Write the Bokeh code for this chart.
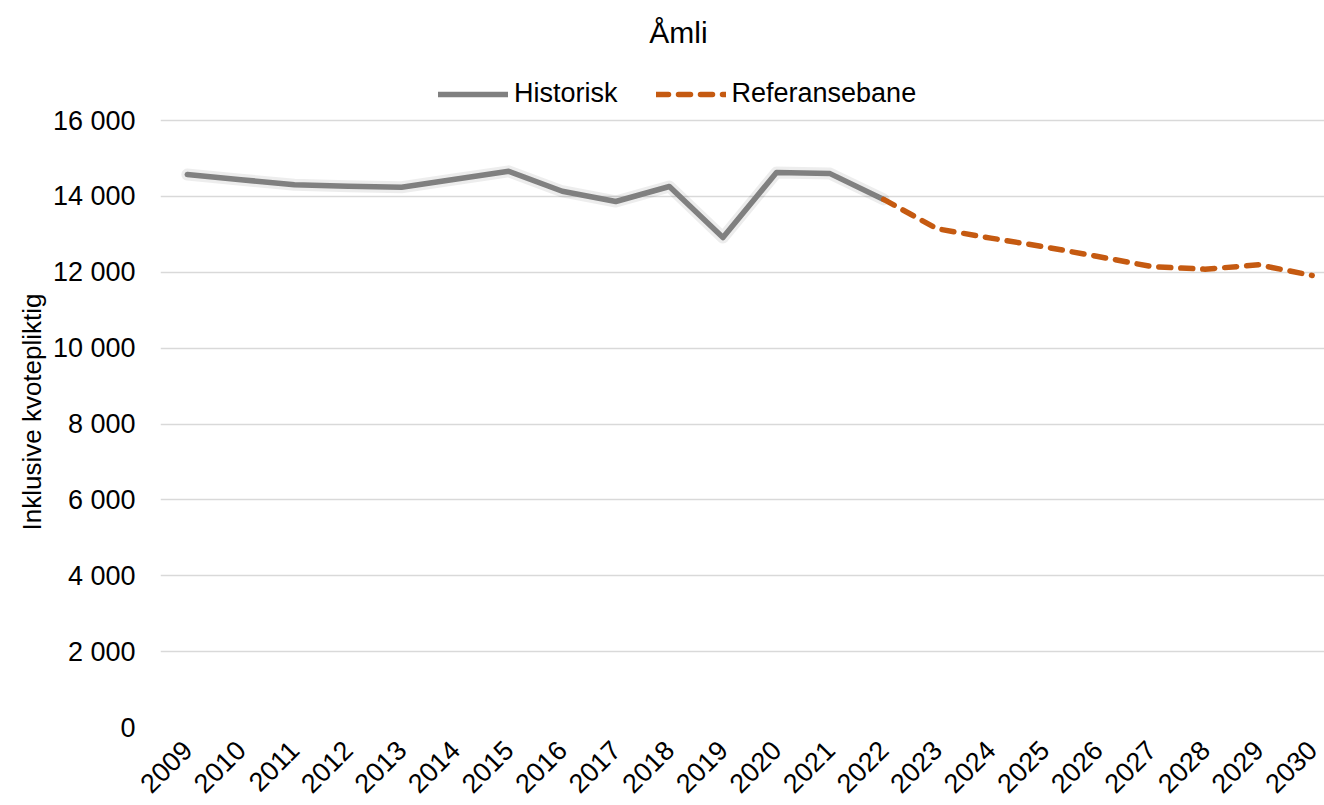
import math
from bokeh.plotting import figure
from bokeh.models import Range1d, Legend, LegendItem, FixedTicker, Label, Title
from bokeh.embed import file_html
from bokeh.resources import INLINE

title_text = "Åmli"
y_label = "Inklusive kvotepliktig"
hist_name = "Historisk"
ref_name = "Referansebane"

hist_years = [2009, 2010, 2011, 2012, 2013, 2014, 2015, 2016, 2017, 2018, 2019, 2020, 2021, 2022]
hist_values = [14575, 14440, 14305, 14270, 14240, 14450, 14660, 14135, 13865, 14260, 12915, 14630, 14600, 13920]

ref_years = [2022, 2023, 2024, 2025, 2026, 2027, 2028, 2029, 2030]
ref_values = [13920, 13145, 12900, 12670, 12415, 12150, 12080, 12195, 11915]

x_ticks = list(range(2009, 2031))
y_ticks = [0, 2000, 4000, 6000, 8000, 10000, 12000, 14000, 16000]
y_tick_labels = ["0", "2 000", "4 000", "6 000", "8 000", "10 000", "12 000", "14 000", "16 000"]

FONT = "Liberation Sans"

FRAME_H = 727          # frame spans the full height above the x-axis labels
PLOT_TOP = 120         # where the 16 000 gridline sits (pixels from top)
y_top = y_ticks[-1] * FRAME_H / (FRAME_H - PLOT_TOP)

p = figure(width=1324, height=805, output_backend="svg", toolbar_location=None,
           x_range=Range1d(2008.5, 2030.23), y_range=Range1d(0, y_top),
           min_border_left=160, min_border_right=0, min_border_top=0, min_border_bottom=78)
p.outline_line_color = None
p.background_fill_color = "white"
p.border_fill_color = "white"

p.xgrid.visible = False
p.ygrid.grid_line_color = "#d9d9d9"
p.ygrid.grid_line_width = 1.5
p.ygrid.ticker = FixedTicker(ticks=y_ticks)

ya = p.yaxis[0]
ya.ticker = FixedTicker(ticks=y_ticks)
ya.major_label_overrides = {t: l for t, l in zip(y_ticks, y_tick_labels)}
ya.axis_line_color = None
ya.major_tick_line_color = None
ya.minor_tick_line_color = None
ya.major_tick_out = 0
ya.major_label_standoff = 25
ya.major_label_text_font = FONT
ya.major_label_text_font_size = "27px"
ya.major_label_text_color = "black"

ylab = Title(text=y_label, align="left", offset=197, standoff=5,
             text_font=FONT, text_font_size="26px", text_font_style="normal",
             text_color="black")
p.add_layout(ylab, "left")

xa = p.xaxis[0]
xa.ticker = FixedTicker(ticks=x_ticks)
xa.axis_line_color = None
xa.major_tick_line_color = None
xa.minor_tick_line_color = None
xa.major_tick_out = 0
xa.major_label_standoff = 18
xa.major_label_orientation = math.pi / 4
xa.major_label_text_font = FONT
xa.major_label_text_font_size = "27px"
xa.major_label_text_color = "black"

# soft shadow under the historical line
p.line(hist_years, hist_values, line_color="#000000", line_alpha=0.07, line_width=12,
       line_join="round", line_cap="round")
r_hist = p.line(hist_years, hist_values, line_color="#808080", line_width=5.5,
                line_join="round", line_cap="round")
r_ref = p.line(ref_years, ref_values, line_color="#C55A11", line_width=5.5,
               line_dash="12 10", line_cap="round", line_join="round")

legend = Legend(items=[LegendItem(label=hist_name, renderers=[r_hist]),
                       LegendItem(label=ref_name, renderers=[r_ref])],
                orientation="horizontal", location=(278, FRAME_H - 109),
                label_text_font=FONT, label_text_font_size="27px",
                label_text_color="black", glyph_width=70, glyph_height=30,
                label_height=30, label_standoff=6, spacing=38, padding=0, margin=0,
                border_line_color=None, background_fill_alpha=0)
p.add_layout(legend, "center")

title = Label(x=518, y=FRAME_H - 32, x_units="screen", y_units="screen", text=title_text,
              text_font=FONT, text_font_size="30px", text_align="center",
              text_baseline="alphabetic", text_color="black")
p.add_layout(title)

open("out.html", "w").write(file_html(p, INLINE))
